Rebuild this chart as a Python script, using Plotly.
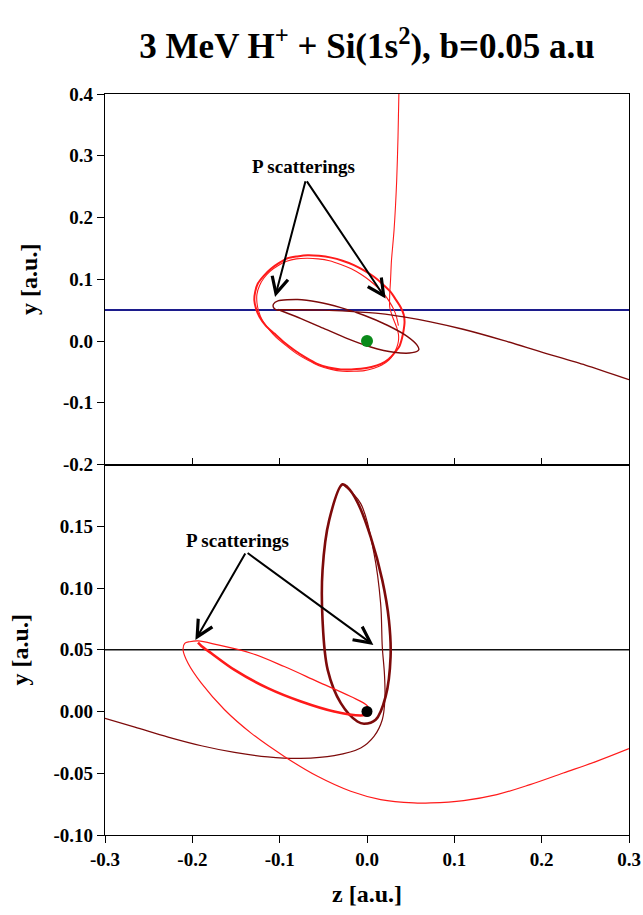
import plotly.graph_objects as go

# ---------------- tick labels ----------------
x_tickvals = [-0.3, -0.2, -0.1, 0.0, 0.1, 0.2, 0.3]
x_ticktext = ["-0.3", "-0.2", "-0.1", "0.0", "0.1", "0.2", "0.3"]
top_y_tickvals = [-0.2, -0.1, 0.0, 0.1, 0.2, 0.3, 0.4]
top_y_ticktext = ["-0.2", "-0.1", "0.0", "0.1", "0.2", "0.3", "0.4"]
bot_y_tickvals = [-0.10, -0.05, 0.0, 0.05, 0.10, 0.15]
bot_y_ticktext = ["-0.10", "-0.05", "0.00", "0.05", "0.10", "0.15"]

# ---------------- top panel ----------------
proj_top_z = [-0.3, 0.3]
proj_top_y = [0.05, 0.05]
nuc_top_z = [0.0]
nuc_top_y = [0.0]

red_top_loop_z = [0.043, 0.042, 0.0384, 0.033, 0.027, 0.018, 0.008, -0.003, -0.015, -0.028, -0.041,
                  -0.055, -0.068, -0.080, -0.091, -0.101, -0.110, -0.118, -0.125, -0.128, -0.129,
                  -0.127, -0.123, -0.116, -0.106, -0.095, -0.083, -0.070, -0.057, -0.044, -0.030,
                  -0.018, -0.007, 0.005, 0.016, 0.025, 0.031, 0.037, 0.040, 0.042, 0.043]
red_top_loop_y = [0.031, 0.043, 0.055, 0.067, 0.0795, 0.092, 0.104, 0.114, 0.123, 0.130, 0.135,
                  0.138, 0.139, 0.137, 0.134, 0.126, 0.117, 0.106, 0.093, 0.080, 0.066,
                  0.052, 0.039, 0.025, 0.012, -0.002, -0.015, -0.027, -0.037, -0.043, -0.046,
                  -0.046, -0.045, -0.042, -0.037, -0.029, -0.020, -0.009, 0.004, 0.018, 0.031]

red_top_path_z = [0.036, 0.034, 0.031, 0.026, 0.020, 0.012, 0.003, -0.007, -0.018, -0.030, -0.043,
                  -0.056, -0.068, -0.081, -0.092, -0.102, -0.111, -0.118, -0.123, -0.126, -0.126,
                  -0.124, -0.120, -0.113, -0.104, -0.093, -0.081, -0.068, -0.055, -0.041, -0.028,
                  -0.015, -0.003, 0.008, 0.017, 0.025, 0.030, 0.034, 0.036, 0.036,
                  0.034, 0.029, 0.026, 0.026, 0.027, 0.028, 0.031, 0.034, 0.0355, 0.0365, 0.037]
red_top_path_y = [0.025, 0.038, 0.050, 0.063, 0.075, 0.087, 0.098, 0.108, 0.117, 0.124, 0.130,
                  0.133, 0.134, 0.133, 0.129, 0.122, 0.113, 0.102, 0.090, 0.076, 0.062,
                  0.048, 0.034, 0.020, 0.006, -0.007, -0.020, -0.031, -0.040, -0.046, -0.049,
                  -0.049, -0.048, -0.044, -0.039, -0.031, -0.022, -0.011, 0.000, 0.011,
                  0.022, 0.040, 0.055, 0.075, 0.100, 0.130, 0.180, 0.260, 0.330, 0.400, 0.420]

maroon_top_z = [-0.102, -0.0947, -0.0756, -0.049, -0.0224, 0.0042, 0.0308, 0.0518, 0.0593,
                0.0575, 0.046, 0.0233, -0.0034, -0.030, -0.0566, -0.0794, -0.102,
                -0.107, -0.107, -0.103, -0.097,
                -0.080, -0.050, -0.020, 0.0156, 0.042, 0.0727, 0.110, 0.156, 0.200, 0.250, 0.300]
maroon_top_y = [0.051, 0.047, 0.0363, 0.0201, 0.0039, -0.0097, -0.0183, -0.0189, -0.014,
                -0.007, 0.0076, 0.0255, 0.0417, 0.0541, 0.0632, 0.0671, 0.0649,
                0.060, 0.054, 0.050, 0.0505,
                0.0505, 0.050, 0.048, 0.0444, 0.039, 0.031, 0.019, 0.001, -0.018, -0.039, -0.0626]

# ---------------- bottom panel ----------------
proj_bot_z = [-0.3, 0.3]
proj_bot_y = [0.05, 0.05]
nuc_bot_z = [0.0]
nuc_bot_y = [0.0]

maroon_bot_loop_z = [-0.028, -0.0433, -0.0509, -0.0509, -0.045, -0.030, -0.011, -0.0034, 0.0099,
                     0.0213, 0.027, 0.0251, 0.0175, 0.0042, -0.011, -0.0224, -0.028]
maroon_bot_loop_y = [0.184, 0.155, 0.1145, 0.074, 0.0337, 0.0068, -0.0081, -0.0099, -0.0067,
                     0.0121, 0.0444, 0.074, 0.1064, 0.1414, 0.1696, 0.1817, 0.184]

maroon_bot_path_z = [-0.028, -0.0072, 0.008, 0.0156, 0.0175, 0.020, 0.0205, 0.0175, 0.008, -0.0072,
                     -0.0376, -0.0756, -0.1136, -0.1517, -0.1897, -0.2277, -0.2658, -0.300]
maroon_bot_path_y = [0.184, 0.1683, 0.128, 0.0876, 0.0525, 0.030, 0.010, -0.0067, -0.0202, -0.0296,
                     -0.0358, -0.038, -0.0368, -0.0331, -0.0277, -0.0207, -0.0126, -0.0055]

red_bot_arc_z = [0.0042, -0.0072, -0.0376, -0.0756, -0.1136, -0.1517, -0.1783, -0.1897, -0.1935]
red_bot_arc_y = [-0.0019, -0.0032, 0.0, 0.0081, 0.0189, 0.0337, 0.0472, 0.0531, 0.0557]

red_bot_path_z = [0.0042, 0.0005, -0.0186, -0.0566, -0.0947, -0.1327, -0.1707, -0.1935, -0.203,
                  -0.2087, -0.2106, -0.2049, -0.1897, -0.1631, -0.1327, -0.0947, -0.0566, -0.0186,
                  0.0156, 0.0536, 0.0727, 0.1106, 0.1487, 0.1867, 0.2247, 0.2628, 0.300]
red_bot_path_y = [-0.0019, 0.0046, 0.0121, 0.0242, 0.0364, 0.0472, 0.0539, 0.0572, 0.0565,
                  0.0552, 0.0498, 0.039, 0.0229, 0.0014, -0.0175, -0.0364, -0.0525, -0.0646,
                  -0.0713, -0.074, -0.074, -0.0721, -0.0673, -0.0592, -0.0498, -0.0404, -0.0301]

# annotation anchor points (data coords): apex of arrows, arrow tips, label
ann_top_apex = (-0.070, 0.261)
ann_top_tips = [(-0.1053, 0.0713), (0.0213, 0.0688)]
ann_top_label = (-0.0728, 0.2833)
ann_bot_apex = (-0.1384, 0.1292)
ann_bot_tips = [(-0.1965, 0.0579), (0.0073, 0.0539)]
ann_bot_label = (-0.1478, 0.1387)

# ---------------- styling ----------------
SERIF = "Liberation Serif, Times New Roman, serif"
RED = "#ff1a1a"
MAROON = "#7d0a0a"
BLUE = "#1c1c8c"
GREEN = "#0a8a1a"

fig = go.Figure()

def line(z, y, color, width, xa, ya, smooth=0.7):
    fig.add_trace(go.Scatter(x=z, y=y, mode="lines", xaxis=xa, yaxis=ya,
                             line=dict(color=color, width=width, shape="spline", smoothing=smooth),
                             hoverinfo="skip"))

# top panel
line(proj_top_z, proj_top_y, BLUE, 2, "x2", "y2")
line(red_top_loop_z, red_top_loop_y, RED, 2, "x2", "y2")
line(red_top_path_z, red_top_path_y, RED, 1.1, "x2", "y2")
line(maroon_top_z, maroon_top_y, MAROON, 1.4, "x2", "y2")
fig.add_trace(go.Scatter(x=nuc_top_z, y=nuc_top_y, mode="markers", xaxis="x2", yaxis="y2",
                         marker=dict(color=GREEN, size=12), hoverinfo="skip"))

# bottom panel
line(proj_bot_z, proj_bot_y, "#111111", 1.3, "x", "y")
line(maroon_bot_loop_z, maroon_bot_loop_y, MAROON, 2.6, "x", "y", 1.0)
line(maroon_bot_path_z, maroon_bot_path_y, MAROON, 1.2, "x", "y", 1.0)
line(red_bot_arc_z, red_bot_arc_y, RED, 2.6, "x", "y", 1.0)
line(red_bot_path_z, red_bot_path_y, RED, 1.2, "x", "y", 1.0)
fig.add_trace(go.Scatter(x=nuc_bot_z, y=nuc_bot_y, mode="markers", xaxis="x", yaxis="y",
                         marker=dict(color="black", size=11), hoverinfo="skip"))

annotations = []
for (apex, tips, lab, xr, yr) in [(ann_top_apex, ann_top_tips, ann_top_label, "x2", "y2"),
                                   (ann_bot_apex, ann_bot_tips, ann_bot_label, "x", "y")]:
    for tz, ty in tips:
        annotations.append(dict(x=tz, y=ty, ax=apex[0], ay=apex[1], xref=xr, yref=yr,
                                axref=xr, ayref=yr, text="", showarrow=True,
                                arrowhead=5, arrowsize=1.6, arrowwidth=2, arrowcolor="black"))
    annotations.append(dict(x=lab[0], y=lab[1], xref=xr, yref=yr, text="P scatterings",
                            showarrow=False, font=dict(family=SERIF, size=19, color="black", weight="bold")))

tickfont = dict(family=SERIF, size=19, color="black", weight="bold")
titlefont = dict(family=SERIF, size=24, color="black", weight="bold")
axcommon = dict(showline=True, linecolor="black", linewidth=1.3, mirror=True, automargin=False,
                showgrid=False, zeroline=False, tickcolor="black", tickwidth=1.3)

fig.update_layout(
    width=643, height=915,
    margin=dict(l=105, r=14, t=94, b=80),
    paper_bgcolor="white", plot_bgcolor="white",
    showlegend=False,
    title=dict(text="3 MeV H<sup>+</sup> + Si(1s<sup>2</sup>), b=0.05 a.u",
               x=0.5, xref="paper", y=1 - 46 / 915, yref="container", yanchor="middle",
               font=dict(family=SERIF, size=35, color="black", weight="bold")),
    xaxis=dict(domain=[0, 1], range=[-0.3, 0.3], anchor="y", tickvals=x_tickvals, ticktext=x_ticktext,
               ticks="outside", ticklen=7, tickfont=tickfont,
               title=dict(text="z [a.u.]", font=titlefont, standoff=16), **axcommon),
    xaxis2=dict(domain=[0, 1], range=[-0.3, 0.3], anchor="y2", tickvals=x_tickvals,
                ticks="inside", ticklen=6, showticklabels=False, **axcommon),
    yaxis=dict(domain=[0, 0.5], range=[-0.1, 0.2], anchor="x", tickvals=bot_y_tickvals, ticktext=bot_y_ticktext,
               ticks="outside", ticklen=7, tickfont=tickfont,
               title=dict(text="y [a.u.]", font=titlefont, standoff=18), **axcommon),
    yaxis2=dict(domain=[0.5, 1], range=[-0.2, 0.4], anchor="x2", tickvals=top_y_tickvals, ticktext=top_y_ticktext,
                ticks="outside", ticklen=7, tickfont=tickfont,
                title=dict(text="y [a.u.]", font=titlefont, standoff=18), **axcommon),
    annotations=annotations,
)

fig.write_html("out.html")
